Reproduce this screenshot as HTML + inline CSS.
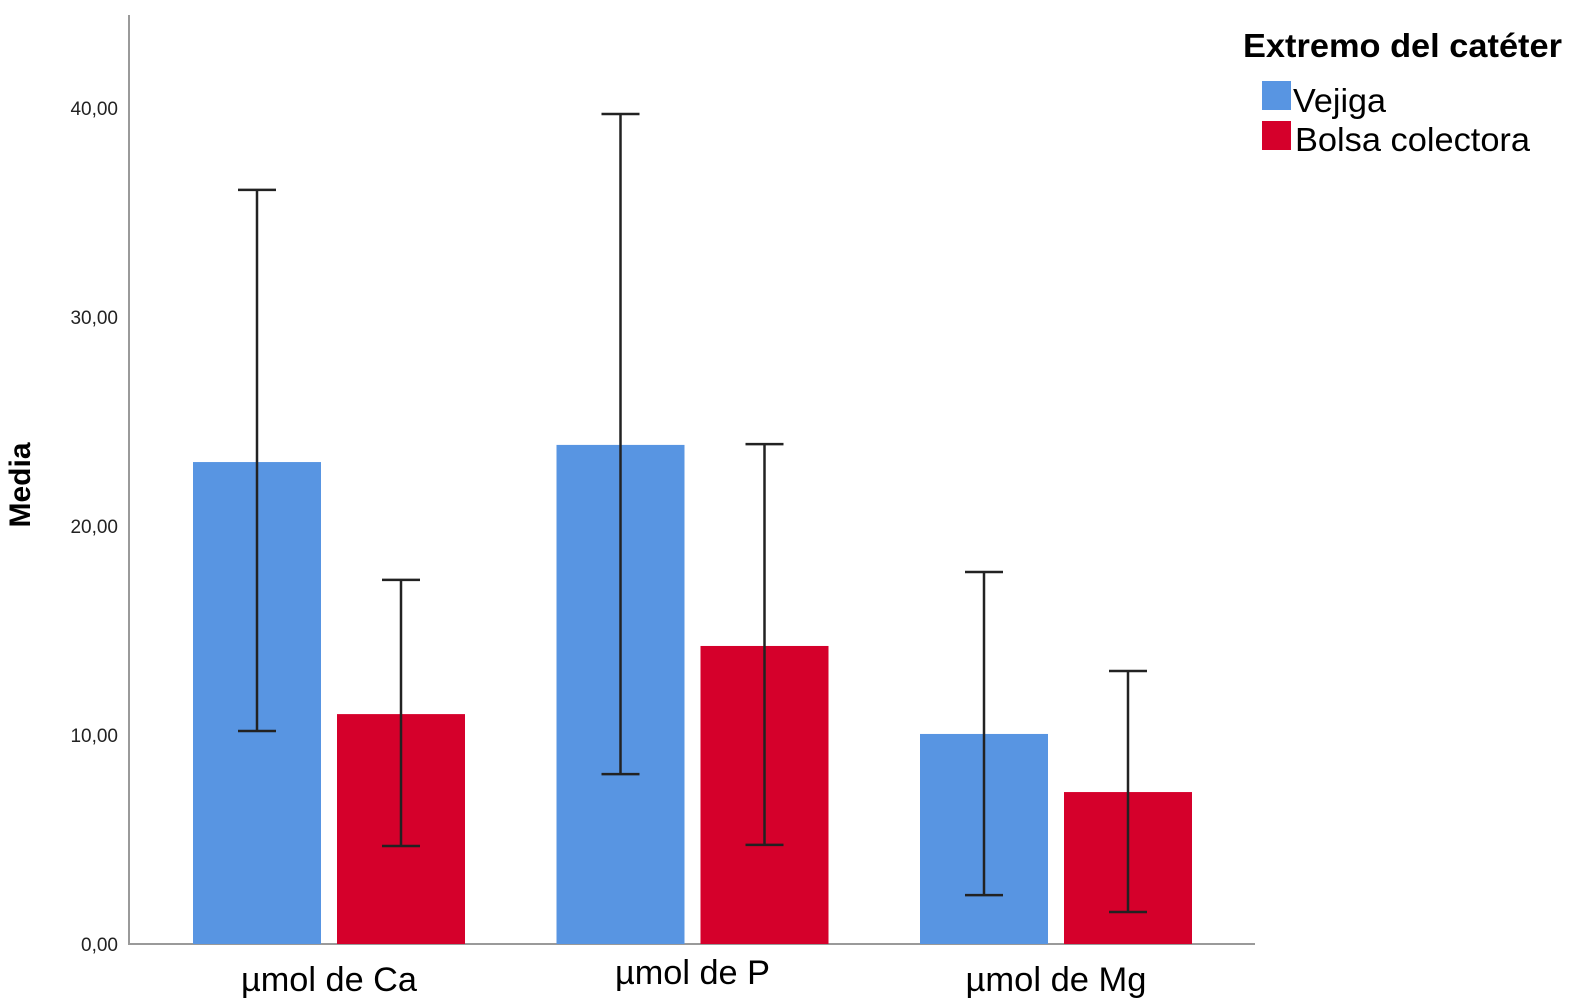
<!DOCTYPE html>
<html><head><meta charset="utf-8"><style>
html,body{margin:0;padding:0;background:#fff;}
svg{display:block;font-family:"Liberation Sans",Arial,sans-serif;}
</style></head><body>
<svg id="chart" width="1570" height="1004">
<g id="axes"></g><g id="bars"></g><g id="errs"></g>
<text x="30" y="485" transform="rotate(-90 30 485)" text-anchor="middle" font-size="30" font-weight="bold">Media</text>
<g>
<text x="1243" y="57" font-size="33" font-weight="bold" textLength="319" lengthAdjust="spacingAndGlyphs">Extremo del catéter</text>
<rect x="1262" y="81" width="29" height="29" fill="#5895e2"/>
<text x="1293" y="112" font-size="33" textLength="93" lengthAdjust="spacingAndGlyphs">Vejiga</text>
<rect x="1262" y="121" width="29" height="29" fill="#d5002b"/>
<text x="1295" y="151" font-size="33" textLength="235" lengthAdjust="spacingAndGlyphs">Bolsa colectora</text>
</g>
</svg>
<script>
const categories=["µmol de Ca","µmol de P","µmol de Mg"];
const vejiga=[23.06,23.88,10.05];
const bolsa=[11.0,14.26,7.27];
const vejigaLow=[10.19,8.13,2.34];
const vejigaHigh=[36.08,39.71,17.8];
const bolsaLow=[4.69,4.74,1.53];
const bolsaHigh=[17.42,23.92,13.06];
const yTicks=[0,10,20,30,40];
const yTickLabels=["0,00","10,00","20,00","30,00","40,00"];
const catLabelY=[991,984,991];
const catLabelW=[176,155,181];

const NS="http://www.w3.org/2000/svg";
function y(v){return 944-v*20.9;}
function groupX(i){return 193+i*363.5;}
function mk(tag,attrs,parent){const e=document.createElementNS(NS,tag);for(const k in attrs)e.setAttribute(k,attrs[k]);document.getElementById(parent).appendChild(e);return e;}

const ax=mk('line',{x1:129,y1:15,x2:129,y2:944,stroke:'#9a9a9a','stroke-width':2},'axes');


const bx=mk('line',{x1:128,y1:944,x2:1255,y2:944,stroke:'#9a9a9a','stroke-width':2},'axes');


yTicks.forEach((t,i)=>{
  const tx=mk('text',{x:118,y:y(t)+7,'text-anchor':'end','font-size':19,fill:'#222'},'axes');
  tx.textContent=yTickLabels[i];
  
  
});
categories.forEach((c,i)=>{
  const gx=groupX(i);
  const t=mk('text',{x:gx+136,y:catLabelY[i],'text-anchor':'middle','font-size':34,fill:'#000',textLength:catLabelW[i],lengthAdjust:'spacingAndGlyphs'},'axes');
  t.textContent=c;
  
  
  [[vejiga,'#5895e2',0,vejigaLow,vejigaHigh,'vejiga'],[bolsa,'#d5002b',144,bolsaLow,bolsaHigh,'bolsa']].forEach(([s,col,off,lo,hi,nm])=>{
    const x0=gx+off;
    const r=mk('rect',{x:x0,y:y(s[i]),width:128,height:944-y(s[i]),fill:col},'bars');
    
    
    const cx=x0+64;
    const g=mk('g',{stroke:'#222','stroke-width':2.5},'errs');
    
    
    [[cx,y(lo[i]),cx,y(hi[i])],[cx-19,y(hi[i]),cx+19,y(hi[i])],[cx-19,y(lo[i]),cx+19,y(lo[i])]].forEach(l=>{
      const ln=document.createElementNS(NS,'line');
      ln.setAttribute('x1',l[0]);ln.setAttribute('y1',l[1]);ln.setAttribute('x2',l[2]);ln.setAttribute('y2',l[3]);
      g.appendChild(ln);
    });
  });
});
</script>
</body></html>
